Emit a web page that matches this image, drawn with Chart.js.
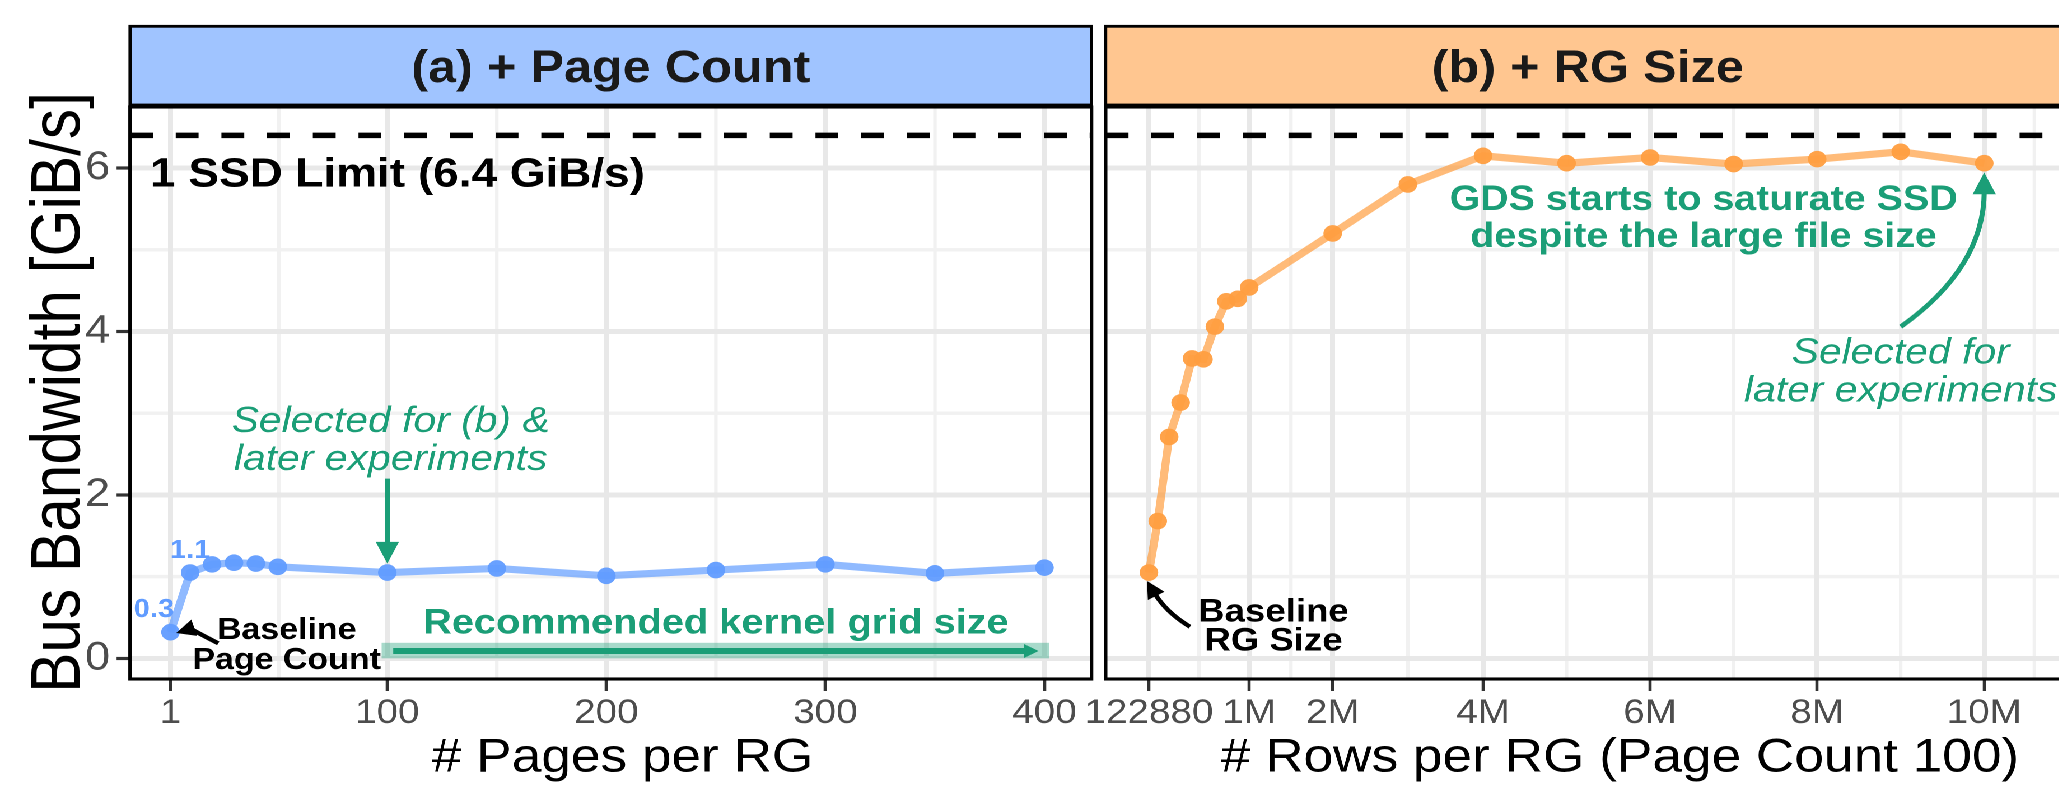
<!DOCTYPE html>
<html><head><meta charset="utf-8">
<script src="https://cdn.jsdelivr.net/npm/chart.js@4.4.0/dist/chart.umd.min.js"></script>
<style>
html,body{margin:0;padding:0;background:#fff;overflow:hidden;width:2059px;height:795px;}
#stage{position:absolute;left:0;top:0;width:1860px;height:795px;transform:scaleX(1.12);transform-origin:0 0;}
#wa{position:absolute;left:0;top:0;width:990px;height:795px;}
#wb{position:absolute;left:960px;top:0;width:900px;height:795px;}
</style></head><body>
<div id="stage"><div id="wa"><canvas id="ca"></canvas></div><div id="wb"><canvas id="cb"></canvas></div></div>
<script>
// ---------------- data ----------------
const pageCounts    = [1, 10, 20, 30, 40, 50, 100, 150, 200, 250, 300, 350, 400];
const pageBandwidth = [0.32, 1.05, 1.15, 1.17, 1.16, 1.12, 1.05, 1.10, 1.01, 1.08, 1.15, 1.04, 1.11];
const rgRows        = [122880, 200000, 300000, 400000, 500000, 600000, 700000, 800000, 900000, 1000000,
                       2000000, 3000000, 4000000, 5000000, 6000000, 7000000, 8000000, 9000000, 10000000];
const rgBandwidth   = [1.05, 1.68, 2.71, 3.13, 3.67, 3.66, 4.06, 4.37, 4.40, 4.54,
                       5.20, 5.80, 6.15, 6.06, 6.13, 6.05, 6.11, 6.20, 6.06];
const ssdLimit      = 6.4;
const yTicks        = [0, 2, 4, 6];
const pageTicks     = [1, 100, 200, 300, 400];
const rowTicks      = [122880, 1000000, 2000000, 4000000, 6000000, 8000000, 10000000];
const rowTickLabels = ['122880', '1M', '2M', '4M', '6M', '8M', '10M'];
const rowAxisPos    = [0, 1.2, 2.2, 4, 6, 8, 10];   // axis transform of the row ticks
const labelledPoints = [0, 1];                       // point labels in panel (a)

// ---------------- helpers ----------------
const FONT = "'Liberation Sans', Arial, Helvetica, sans-serif";
const GREEN = '#1B9E77';
const BLUE = [97, 156, 255];
const ORANGE = [255, 158, 64];
const rgba = (c, a) => `rgba(${c[0]},${c[1]},${c[2]},${a})`;
const Y_MIN = -0.253, Y_MAX = 6.748;

function rowsToAxis(r) {
  const n = rowTicks.length;
  for (let i = 0; i < n - 1; i++) {
    if (r <= rowTicks[i + 1] || i === n - 2) {
      const t = (r - rowTicks[i]) / (rowTicks[i + 1] - rowTicks[i]);
      return rowAxisPos[i] + t * (rowAxisPos[i + 1] - rowAxisPos[i]);
    }
  }
}
function minorBreaks(b, min, max) {
  const bb = b.slice(); const bd = bb[1] - bb[0];
  if (min < bb[0]) bb.unshift(bb[0] - bd);
  if (max > bb[bb.length - 1]) bb.push(bb[bb.length - 1] + bd);
  const out = [];
  for (let i = 0; i < bb.length - 1; i++) out.push((bb[i] + bb[i + 1]) / 2);
  return out.filter(v => v > min && v < max);
}
function text(ctx, s, x, y, font, color, align) {
  ctx.save();
  ctx.font = font; ctx.fillStyle = color; ctx.textAlign = align || 'center'; ctx.textBaseline = 'alphabetic';
  ctx.fillText(s, x, y);
  ctx.restore();
}
function head(ctx, tx, ty, ang, len, wid, color) {
  ctx.save(); ctx.translate(tx, ty); ctx.rotate(ang);
  ctx.beginPath(); ctx.moveTo(0, 0); ctx.lineTo(-len, -wid / 2); ctx.lineTo(-len, wid / 2); ctx.closePath();
  ctx.fillStyle = color; ctx.fill(); ctx.restore();
}
function straightArrow(ctx, x1, y1, x2, y2, lw, len, wid, color) {
  const ang = Math.atan2(y2 - y1, x2 - x1);
  ctx.save(); ctx.strokeStyle = color; ctx.lineWidth = lw; ctx.lineCap = 'butt';
  ctx.beginPath(); ctx.moveTo(x1, y1); ctx.lineTo(x2 - Math.cos(ang) * len * 0.9, y2 - Math.sin(ang) * len * 0.9); ctx.stroke();
  ctx.restore();
  head(ctx, x2, y2, ang, len, wid, color);
}
function curvedArrow(ctx, sx, sy, cx, cy, ex, ey, lw, len, wid, color) {
  const ang = Math.atan2(ey - cy, ex - cx);
  const bx = ex - Math.cos(ang) * len * 0.85, by = ey - Math.sin(ang) * len * 0.85;
  ctx.save(); ctx.strokeStyle = color; ctx.lineWidth = lw; ctx.lineCap = 'butt';
  ctx.beginPath(); ctx.moveTo(sx, sy); ctx.quadraticCurveTo(cx, cy, bx, by); ctx.stroke();
  ctx.restore();
  head(ctx, ex, ey, ang, len, wid, color);
}

function panelPlugin(P) {
  return {
    id: 'panel' + P.id,
    beforeDraw(chart) {
      const { ctx, chartArea: a, scales: { x, y } } = chart;
      ctx.save();
      // strip
      ctx.fillStyle = P.stripFill;
      ctx.fillRect(a.left, 26.3, a.right - a.left, 105 - 26.3);
      ctx.lineWidth = 2.8; ctx.strokeStyle = '#000';
      ctx.strokeRect(a.left, 26.3, a.right - a.left, 105 - 26.3);
      text(ctx, P.strip, (a.left + a.right) / 2, 82, 'bold 45px ' + FONT, '#1A1A1A');
      // minor grid
      ctx.beginPath(); ctx.rect(a.left, a.top, a.right - a.left, a.bottom - a.top); ctx.clip();
      ctx.strokeStyle = '#F1F1F1';
      ctx.lineWidth = 3.4;
      for (const v of minorBreaks(yTicks, Y_MIN, Y_MAX)) {
        const py = y.getPixelForValue(v);
        ctx.beginPath(); ctx.moveTo(a.left, py); ctx.lineTo(a.right, py); ctx.stroke();
      }
      ctx.lineWidth = 3.1;
      for (const v of minorBreaks(P.xMajor, x.min, x.max)) {
        const px = x.getPixelForValue(v);
        ctx.beginPath(); ctx.moveTo(px, a.top); ctx.lineTo(px, a.bottom); ctx.stroke();
      }
      ctx.restore();
    },
    afterDatasetsDraw(chart) { P.annotate(chart); },
    afterDraw(chart) {
      const { ctx, chartArea: a } = chart;
      ctx.save();
      ctx.strokeStyle = '#000'; ctx.lineWidth = 3.1;
      ctx.strokeRect(a.left, a.top, a.right - a.left, a.bottom - a.top);
      ctx.restore();
      text(ctx, P.xTitle, P.xTitleX, 771.7, '47.5px ' + FONT, '#000');
      if (P.yTitle) {
        ctx.save();
        ctx.translate(71, 392.5); ctx.rotate(-Math.PI / 2); ctx.scale(0.974, 1);
        ctx.font = '62px ' + FONT; ctx.fillStyle = '#000'; ctx.textAlign = 'center'; ctx.textBaseline = 'alphabetic';
        ctx.fillText(P.yTitle, 0, 0);
        ctx.restore();
      }
    }
  };
}

function baseOptions(P) {
  return {
    responsive: true, maintainAspectRatio: false, animation: false, devicePixelRatio: 2, events: [],
    layout: { padding: { left: 0, right: P.padRight, top: 107, bottom: 0 } },
    plugins: { legend: { display: false }, tooltip: { enabled: false }, title: { display: false } },
    scales: {
      x: {
        type: 'linear', min: P.xMin, max: P.xMax,
        afterBuildTicks: s => { s.ticks = P.xTickValues.map(v => ({ value: v })); },
        afterFit: s => { s.height = 116; s.paddingLeft = 0; s.paddingRight = 0; },
        ticks: {
          autoSkip: false, maxRotation: 0, minRotation: 0, padding: 2,
          color: '#4D4D4D', font: { family: FONT, size: 34.5 },
          callback: P.xLabel
        },
        grid: { color: '#E8E8E8', lineWidth: 4.5, tickColor: '#333333', tickWidth: 2.8, tickLength: 12, drawTicks: true },
        border: { display: false }
      },
      y: {
        type: 'linear', min: Y_MIN, max: Y_MAX,
        afterBuildTicks: s => { s.ticks = yTicks.map(v => ({ value: v })); },
        afterFit: s => { s.width = P.yWidth; s.paddingTop = 0; s.paddingBottom = 0; },
        ticks: {
          display: P.yLabels, padding: 5.9, color: '#4D4D4D', font: { family: FONT, size: 40 },
          callback: v => String(v)
        },
        grid: { color: '#E8E8E8', lineWidth: 5, tickColor: '#333333', tickWidth: 3.2, tickLength: 12, drawTicks: P.yLabels },
        border: { display: false }
      }
    }
  };
}

function seriesDataset(xs, ys, col) {
  return {
    data: xs.map((v, i) => ({ x: v, y: ys[i] })),
    borderColor: rgba(col, 0.7), borderWidth: 7.2, tension: 0,
    pointRadius: 8.3, pointBackgroundColor: rgba(col, 0.95), pointBorderWidth: 0,
    order: 1
  };
}
function limitDataset(xmin, xmax) {
  return {
    data: [{ x: xmin, y: ssdLimit }, { x: xmax, y: ssdLimit }],
    borderColor: '#000', borderWidth: 5.5, borderDash: [20.4, 20.4], pointRadius: 0, order: 2
  };
}

// ---------------- panel (a) ----------------
const PA = {
  id: 'A', strip: '(a) + Page Count', stripFill: '#A0C4FF',
  xMin: -17.46, xMax: 421.5, padRight: 15.4, yWidth: 116.1, yLabels: true,
  xMajor: pageTicks, xTickValues: pageTicks, xLabel: v => String(v),
  xTitle: '# Pages per RG', xTitleX: 555.9, yTitle: 'Bus Bandwidth [GiB/s]',
  annotate(chart) {
    const { ctx, scales: { x, y } } = chart;
    text(ctx, '1 SSD Limit (6.4 GiB/s)', 133.9, 186.5, 'bold 41px ' + FONT, '#000', 'left');
    // point labels
    const offs = [[-14.7, -15], [0, -14.5]];
    labelledPoints.forEach((idx, k) => {
      const v = Math.round(pageBandwidth[idx] * 10) / 10;
      text(ctx, v.toFixed(1), x.getPixelForValue(pageCounts[idx]) + offs[k][0],
           y.getPixelForValue(pageBandwidth[idx]) + offs[k][1], 'bold 26px ' + FONT, rgba(BLUE, 1));
    });
    // selected annotation
    const x100 = x.getPixelForValue(100);
    text(ctx, 'Selected for (b) &', x100 + 3, 432, 'italic 36.5px ' + FONT, GREEN);
    text(ctx, 'later experiments', x100 + 3, 470, 'italic 36.5px ' + FONT, GREEN);
    straightArrow(ctx, x100, y.getPixelForValue(2.2), x100, y.getPixelForValue(1.16), 4.5, 21.7, 20.8, GREEN);
    // baseline annotation
    text(ctx, 'Baseline', 256, 639, 'bold 30.3px ' + FONT, '#000');
    text(ctx, 'Page Count', 256, 669, 'bold 30.3px ' + FONT, '#000');
    curvedArrow(ctx, 194.9, 643.3, 169.6, 629, 157.3, 633, 4.2, 17, 17, '#000');
    // recommended band
    const bx1 = x.getPixelForValue(97.4), bx2 = x.getPixelForValue(402.1);
    const by1 = y.getPixelForValue(0.19), by2 = y.getPixelForValue(0);
    ctx.save(); ctx.fillStyle = rgba([27, 158, 119], 0.38); ctx.fillRect(bx1, by1, bx2 - bx1, by2 - by1); ctx.restore();
    const ay = y.getPixelForValue(0.09);
    straightArrow(ctx, x.getPixelForValue(102.7), ay, x.getPixelForValue(397.3), ay, 6, 13, 14, GREEN);
    text(ctx, 'Recommended kernel grid size', x.getPixelForValue(250), 633.3, 'bold 35.5px ' + FONT, GREEN);
  }
};

// ---------------- panel (b) ----------------
const PB = {
  id: 'B', strip: '(b) + RG Size', stripFill: '#FFC690',
  xMin: -0.518, xMax: 11.025, padRight: 11.9, yWidth: 27.2, yLabels: false,
  xMajor: rowTicks.map(rowsToAxis), xTickValues: rowTicks.map(rowsToAxis),
  xLabel: (v, i) => rowTickLabels[i],
  xTitle: '# Rows per RG (Page Count 100)', xTitleX: 486.4, yTitle: null,
  annotate(chart) {
    const { ctx, scales: { x, y } } = chart;
    const gx = x.getPixelForValue(6.64);
    text(ctx, 'GDS starts to saturate SSD', gx, 210, 'bold 35.2px ' + FONT, GREEN);
    text(ctx, 'despite the large file size', gx, 247, 'bold 35.2px ' + FONT, GREEN);
    const tipX = x.getPixelForValue(rowsToAxis(10000000));
    curvedArrow(ctx, 737.1, 326.7, tipX, 267.6, tipX, 172.5, 4.5, 21.7, 20.8, GREEN);
    const sx = x.getPixelForValue(rowsToAxis(9000000));
    text(ctx, 'Selected for', sx, 363.3, 'italic 36.5px ' + FONT, GREEN);
    text(ctx, 'later experiments', sx, 401.7, 'italic 36.5px ' + FONT, GREEN);
    text(ctx, 'Baseline', 177, 621.7, 'bold 32.7px ' + FONT, '#000');
    text(ctx, 'RG Size', 177, 650.7, 'bold 32.7px ' + FONT, '#000');
    curvedArrow(ctx, 102.5, 626.7, 81.6, 612.7, 64.1, 581, 4.2, 17, 17, '#000');
  }
};

new Chart(document.getElementById('ca'), {
  type: 'line',
  data: { datasets: [limitDataset(PA.xMin, PA.xMax), seriesDataset(pageCounts, pageBandwidth, BLUE)] },
  options: baseOptions(PA),
  plugins: [panelPlugin(PA)]
});
new Chart(document.getElementById('cb'), {
  type: 'line',
  data: { datasets: [limitDataset(PB.xMin, PB.xMax), seriesDataset(rgRows.map(rowsToAxis), rgBandwidth, ORANGE)] },
  options: baseOptions(PB),
  plugins: [panelPlugin(PB)]
});
</script>
</body></html>
